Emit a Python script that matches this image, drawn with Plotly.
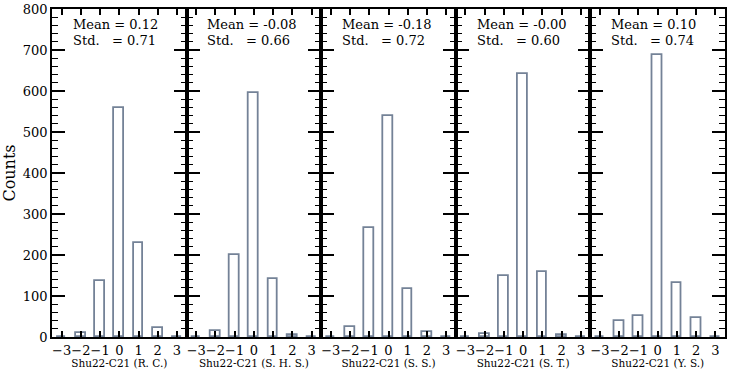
import plotly.graph_objects as go
from plotly.subplots import make_subplots

bins = [-3, -2, -1, 0, 1, 2, 3]

groups = ["R. C.", "S. H. S.", "S. S.", "S. T.", "Y. S."]
counts_rc = [0, 10, 137, 558, 229, 21, 0]
counts_shs = [0, 14, 201, 596, 141, 6, 0]
counts_ss = [0, 25, 266, 539, 118, 13, 0]
counts_st = [0, 8, 150, 642, 158, 4, 0]
counts_ys = [0, 40, 51, 689, 131, 47, 0]
means = ["0.12", "-0.08", "-0.18", "-0.00", "0.10"]
stds = ["0.71", "0.66", "0.72", "0.60", "0.74"]

all_counts = [counts_rc, counts_shs, counts_ss, counts_st, counts_ys]

serif = "DejaVu Serif"
bar_col = "#748297"

fig = make_subplots(rows=1, cols=5, shared_yaxes=True, horizontal_spacing=0)

for i, (grp, cnt) in enumerate(zip(groups, all_counts)):
    col = i + 1
    fig.add_trace(go.Bar(x=bins, y=cnt, width=0.5,
                         marker=dict(color="white", line=dict(color=bar_col, width=1.8)),
                         showlegend=False),
                  row=1, col=col)
    fig.update_xaxes(range=[-3.5, 3.5], tickvals=bins, tickangle=0, automargin=False,
                     ticks="inside", ticklen=6, tickwidth=1.5, tickcolor="black",
                     showline=True, linecolor="black", linewidth=1.8, mirror="ticks",
                     showgrid=False, zeroline=False,
                     tickfont=dict(family=serif, size=13, color="black"),
                     title=dict(text=f"Shu22-C21 ({grp})", standoff=0,
                                font=dict(family=serif, size=10.5, color="black")),
                     row=1, col=col)
    fig.update_yaxes(range=[0, 800], tickmode="linear", tick0=0, dtick=100, automargin=False,
                     ticks="inside", ticklen=13, tickwidth=1.5, tickcolor="black",
                     minor=dict(tickmode="linear", tick0=0, dtick=20, ticks="inside",
                                ticklen=6, tickwidth=1.2, tickcolor="black", showgrid=False),
                     showline=True, linecolor="black", linewidth=1.8, mirror="ticks",
                     showgrid=False, zeroline=False,
                     tickfont=dict(family=serif, size=13, color="black"),
                     row=1, col=col)
    xd = "x domain" if col == 1 else f"x{col} domain"
    yd = "y domain" if col == 1 else f"y{col} domain"
    fig.add_annotation(text=f"Mean = {means[i]}", xref=xd, yref=yd,
                       x=0.14, y=0.952, xanchor="left", yanchor="middle", showarrow=False,
                       font=dict(family=serif, size=13, color="black"))
    fig.add_annotation(text="Std.\u00a0\u00a0\u00a0= " + stds[i], xref=xd, yref=yd,
                       x=0.14, y=0.903, xanchor="left", yanchor="middle", showarrow=False,
                       font=dict(family=serif, size=13, color="black"))

fig.update_yaxes(title=dict(text="Counts", standoff=10,
                            font=dict(family=serif, size=16, color="black")),
                 row=1, col=1)

fig.update_layout(width=747, height=374,
                  margin=dict(l=52, r=22, t=9, b=37),
                  plot_bgcolor="white", paper_bgcolor="white",
                  bargap=0, font=dict(family=serif, color="black"))

# page body has a default 8px margin, drop it so the figure sits at 0,0
fig.write_html("out.html", config={"displayModeBar": False},
               post_script="document.body.style.margin='0';")
